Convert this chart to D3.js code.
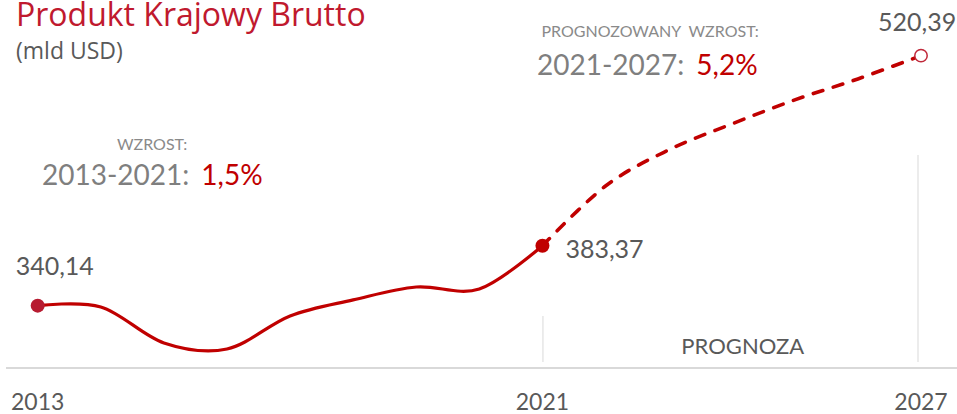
<!DOCTYPE html>
<html>
<head>
<meta charset="utf-8">
<script src="https://cdn.jsdelivr.net/npm/d3@7"></script>
<style>
  html, body { margin: 0; padding: 0; background: #fff; }
  svg { display: block; }
  .num { font-family: Lato, "Open Sans", sans-serif; }
</style>
</head>
<body>
<div id="chart"></div>
<script>
// ---- data ----
const histYears      = [2013, 2014, 2015, 2016, 2017, 2018, 2019, 2020, 2021];
const histValues     = [340.14, 339.2, 313.3, 308.9, 332.7, 344.3, 353.6, 352.2, 383.37];
const forecastYears  = [2021, 2022, 2023, 2024, 2025, 2026, 2027];
const forecastValues = [383.37, 426.4, 452.4, 471.1, 488.5, 503.6, 520.39];
const tickYears      = [2013, 2021, 2027];

const title      = "Produkt Krajowy Brutto";
const unitLabel  = "(mld USD)";
const histGrowth = { label: "WZROST:", period: "2013-2021:", value: "1,5%" };
const fcGrowth   = { label: "PROGNOZOWANY  WZROST:", period: "2021-2027:", value: "5,2%" };
const forecastLabel = "PROGNOZA";

(function() {
  const fullW = 957, fullH = 414;
  const red = "#c00000", grey = "#595959", lightGrey = "#8a8a8a", rule = "#d9d9d9";

  const svg = d3.select("#chart")
    .append("svg")
    .attr("width", fullW)
    .attr("height", fullH);

  // Scales
  const x = d3.scaleLinear().domain([2013, 2027]).range([37.7, 921]);
  const y = d3.scaleLinear().domain([295.2, 560.5]).range([368, 0]);

  const fmtVal = v => d3.format(".2f")(v).replace(".", ",");

  // baseline + separators
  svg.append("line")
    .attr("x1", 6).attr("x2", fullW)
    .attr("y1", 368).attr("y2", 368)
    .attr("stroke", rule).attr("stroke-width", 2);

  svg.append("line")
    .attr("x1", x(2021) + 0.5).attr("x2", x(2021) + 0.5)
    .attr("y1", 316).attr("y2", 362)
    .attr("stroke", rule).attr("stroke-width", 1);

  svg.append("line")
    .attr("x1", x(2027) - 3).attr("x2", x(2027) - 3)
    .attr("y1", 155).attr("y2", 362)
    .attr("stroke", rule).attr("stroke-width", 1);

  // year labels
  svg.selectAll(".year")
    .data(tickYears)
    .enter().append("text")
    .attr("class", "year num")
    .attr("x", d => x(d))
    .attr("y", 410)
    .attr("text-anchor", "middle")
    .attr("font-size", 23)
    .attr("fill", grey)
    .text(d => d);

  svg.append("text")
    .attr("class", "num")
    .attr("x", (x(2021) + x(2027)) / 2 + 11)
    .attr("y", 354)
    .attr("text-anchor", "middle")
    .attr("font-size", 22)
    .attr("fill", grey)
    .text(forecastLabel);

  // lines
  const line = d3.line()
    .x(d => x(d[0]))
    .y(d => y(d[1]))
    .curve(d3.curveCardinal.tension(0));

  svg.append("path")
    .datum(d3.zip(histYears, histValues))
    .attr("fill", "none")
    .attr("stroke", red)
    .attr("stroke-width", 3.2)
    .attr("stroke-linecap", "round")
    .attr("d", line);

  svg.append("path")
    .datum(d3.zip(forecastYears, forecastValues))
    .attr("fill", "none")
    .attr("stroke", red)
    .attr("stroke-width", 3.6)
    .attr("stroke-dasharray", "10,11")
    .attr("stroke-linecap", "round")
    .attr("d", line);

  // end point markers
  const first = histYears.length - 1;
  svg.append("circle")
    .attr("cx", x(histYears[0])).attr("cy", y(histValues[0]))
    .attr("r", 7).attr("fill", "#b71c31");
  svg.append("circle")
    .attr("cx", x(histYears[first])).attr("cy", y(histValues[first]))
    .attr("r", 7).attr("fill", red);
  const last = forecastYears.length - 1;
  svg.append("circle")
    .attr("cx", x(forecastYears[last])).attr("cy", y(forecastValues[last]))
    .attr("r", 6.2).attr("fill", "#fff")
    .attr("stroke", "#c0283a").attr("stroke-width", 1.5);

  // value labels
  const valueLabels = [
    { year: histYears[0], value: histValues[0], dx: -22, dy: -31 },
    { year: histYears[first], value: histValues[first], dx: 23, dy: 12.5 },
    { year: forecastYears[last], value: forecastValues[last], dx: -43, dy: -25 }
  ];
  svg.selectAll(".val")
    .data(valueLabels)
    .enter().append("text")
    .attr("class", "val num")
    .attr("x", d => x(d.year) + d.dx)
    .attr("y", d => y(d.value) + d.dy)
    .attr("font-size", 25)
    .attr("fill", grey)
    .text(d => fmtVal(d.value));

  // title
  svg.append("text")
    .attr("x", 16).attr("y", 26)
    .attr("font-family", "'Open Sans', sans-serif")
    .attr("font-size", 32)
    .attr("fill", "#c0192e")
    .text(title);

  svg.append("text")
    .attr("x", 16).attr("y", 59)
    .attr("font-family", "'Open Sans', sans-serif")
    .attr("font-size", 23)
    .attr("fill", grey)
    .text(unitLabel);

  // growth annotations
  function growth(g, x0, yLabel, labelX, yMain) {
    svg.append("text")
      .attr("class", "num")
      .attr("x", labelX).attr("y", yLabel)
      .attr("font-size", 16)
      .attr("fill", lightGrey)
      .style("white-space", "pre")
      .text(g.label);
    const t = svg.append("text")
      .attr("class", "num")
      .attr("x", x0).attr("y", yMain)
      .attr("font-size", 28);
    t.append("tspan").attr("fill", "#7f7f7f").text(g.period);
    t.append("tspan").attr("fill", red).attr("dx", 12).text(g.value);
  }
  growth(histGrowth, 42, 150, 117, 185);
  growth(fcGrowth, 537, 36.5, 541.5, 75);
})();
</script>
</body>
</html>
